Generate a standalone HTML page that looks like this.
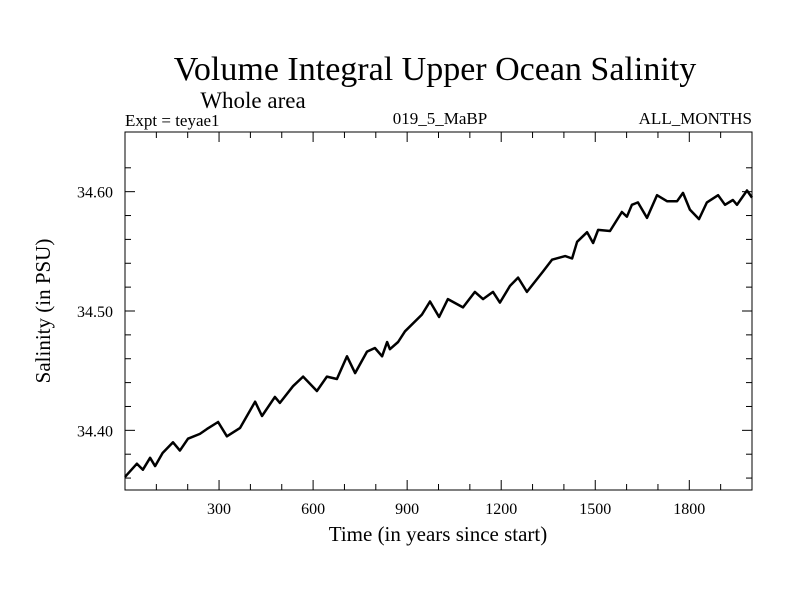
<!DOCTYPE html>
<html><head><meta charset="utf-8"><style>
body{margin:0;background:#fff}
svg text{font-family:"Liberation Serif",serif;fill:#000}
</style></head><body>
<svg width="800" height="600" viewBox="0 0 800 600">
<rect width="800" height="600" fill="#fff"/>
<text x="435" y="80" font-size="34" text-anchor="middle">Volume Integral Upper Ocean Salinity</text>
<text x="253" y="108" font-size="23" text-anchor="middle">Whole area</text>
<text x="125" y="126" font-size="17">Expt = teyae1</text>
<text x="440" y="124" font-size="17" text-anchor="middle">019_5_MaBP</text>
<text x="752" y="124" font-size="17" text-anchor="end">ALL_MONTHS</text>
<g id="axes"></g>
<rect x="125" y="132" width="627" height="358" fill="none" stroke="#000" stroke-width="1"/>
<text x="438" y="541" font-size="21" text-anchor="middle">Time (in years since start)</text>
<text x="0" y="0" font-size="21" text-anchor="middle" transform="translate(50,311) rotate(-90)">Salinity (in PSU)</text>
<path id="series" fill="none" stroke="#000" stroke-width="2.5" stroke-linejoin="round"/>
</svg>
<script>
const years=[0,38,57,80,96,120,153,175,201,239,261,297,325,367,415,437,478,494,536,568,612,644,676,708,734,772,797,820,836,845,871,893,947,973,1002,1030,1078,1116,1142,1174,1196,1228,1254,1282,1333,1362,1404,1426,1442,1474,1493,1509,1547,1585,1601,1617,1636,1665,1697,1729,1761,1780,1802,1831,1856,1892,1914,1939,1952,1984,2000];
const salinity=[34.361,34.372,34.367,34.377,34.370,34.381,34.390,34.383,34.393,34.397,34.401,34.407,34.395,34.402,34.424,34.412,34.428,34.423,34.437,34.445,34.433,34.445,34.443,34.462,34.448,34.466,34.469,34.462,34.474,34.468,34.474,34.483,34.497,34.508,34.495,34.510,34.503,34.516,34.510,34.516,34.507,34.521,34.528,34.516,34.533,34.543,34.546,34.544,34.558,34.566,34.557,34.568,34.567,34.583,34.579,34.589,34.591,34.578,34.597,34.592,34.592,34.599,34.585,34.577,34.591,34.597,34.589,34.593,34.589,34.601,34.595];
const xTickLabels=[300,600,900,1200,1500,1800];
const yTickLabels=["34.40","34.50","34.60"];
const X0=125,X1=752,Y0=490,Y1=132,xmin=0,xmax=2000,ymin=34.35,ymax=34.65;
const sx=v=>X0+(v-xmin)/(xmax-xmin)*(X1-X0);
const sy=v=>Y0-(v-ymin)/(ymax-ymin)*(Y0-Y1);
const NS="http://www.w3.org/2000/svg";
const g=document.getElementById('axes');
function ln(x1,y1,x2,y2,name){const l=document.createElementNS(NS,'line');l.setAttribute('x1',x1);l.setAttribute('y1',y1);l.setAttribute('x2',x2);l.setAttribute('y2',y2);l.setAttribute('stroke','#000');l.setAttribute('stroke-width','1');


g.appendChild(l);}
for(let v=100;v<2000;v+=100){const x=sx(v);const len=v%300===0?10:6;ln(x,Y0,x,Y0-len,'x-tick');ln(x,Y1,x,Y1+len,'x-tick-top');}
for(let k=1;k<15;k++){const val=34.36+(k-1)*0.02;const y=sy(val);const r=Math.round(val*100)%10;const major=r===0;const len=major?10:6;ln(X0,y,X0+len,y,'y-tick');ln(X1,y,X1-len,y,'y-tick-right');}
xTickLabels.forEach(v=>{const t=document.createElementNS(NS,'text');t.setAttribute('x',sx(v));t.setAttribute('y',Y0+24);t.setAttribute('font-size','16');t.setAttribute('text-anchor','middle');t.textContent=v;


g.appendChild(t);});
yTickLabels.forEach(s=>{const t=document.createElementNS(NS,'text');t.setAttribute('x',X0-12);t.setAttribute('y',sy(parseFloat(s))+6);t.setAttribute('font-size','16');t.setAttribute('text-anchor','end');t.textContent=s;


g.appendChild(t);});
document.getElementById('series').setAttribute('d',years.map((yr,i)=>(i?'L':'M')+sx(yr).toFixed(1)+','+sy(salinity[i]).toFixed(1)).join(' '));
</script>
</body></html>
